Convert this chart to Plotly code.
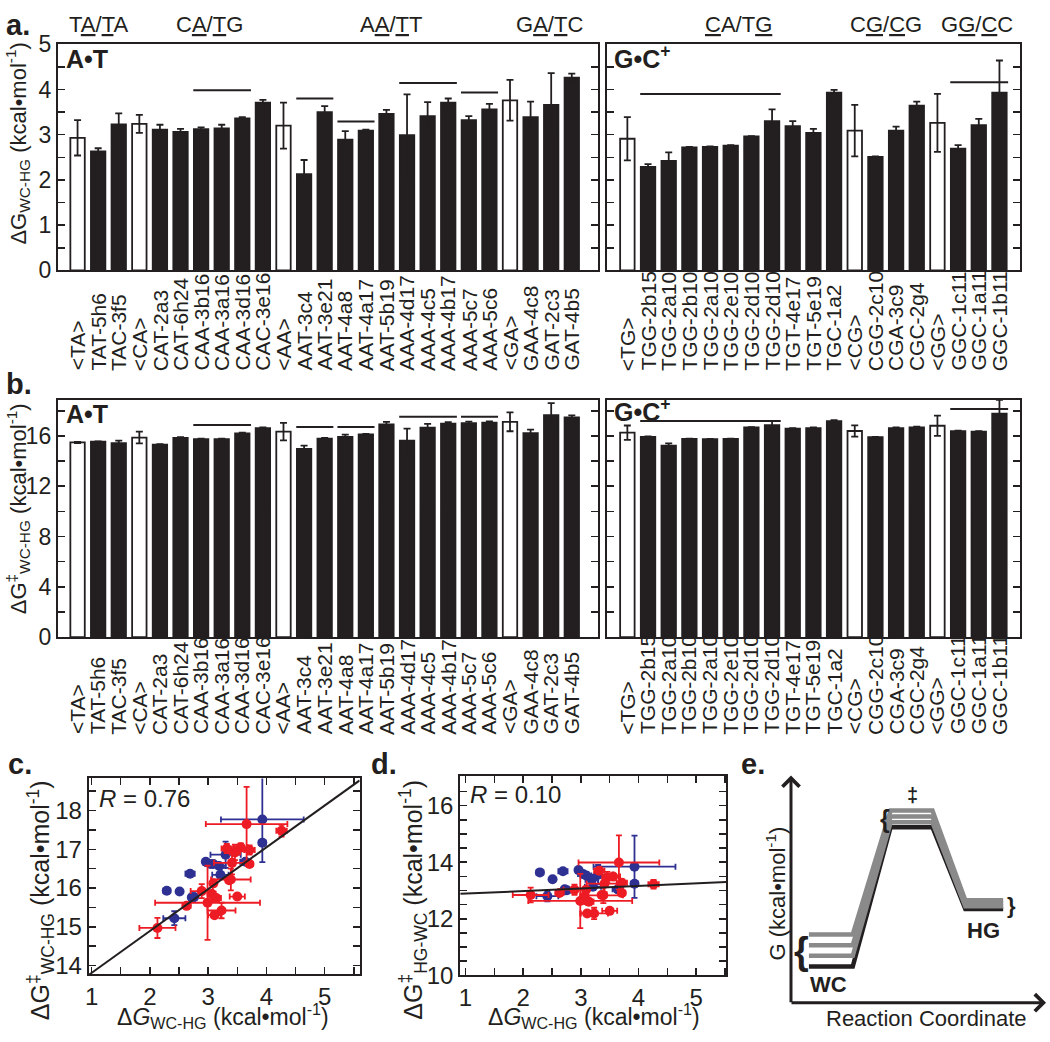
import plotly.graph_objects as go

FONT = "Arial, 'Liberation Sans', Helvetica, sans-serif"
INK = "#231f20"
RED = "#ED1C24"
BLUE = "#2E3192"
GRAY = "#8a8a8a"
W, H = 1050, 1042

# ---------------- data: A•T constructs ----------------
at_labels = ["<TA>", "TAT-5h6", "TAC-3f5", "<CA>", "CAT-2a3", "CAT-6h24", "CAA-3b16", "CAA-3a16",
             "CAA-3d16", "CAC-3e16", "<AA>", "AAT-3c4", "AAT-3e21", "AAT-4a8", "AAT-4a17", "AAT-5b19",
             "AAA-4d17", "AAA-4c5", "AAA-4b17", "AAA-5c7", "AAA-5c6", "<GA>", "GAA-4c8", "GAT-2c3", "GAT-4b5"]
at_is_avg = [True, False, False, True, False, False, False, False, False, False, True, False, False,
             False, False, False, False, False, False, False, False, True, False, False, False]
at_dG = [2.93, 2.63, 3.23, 3.24, 3.11, 3.06, 3.12, 3.14, 3.36, 3.71, 3.20, 2.13, 3.50, 2.89, 3.09, 3.46,
         2.99, 3.41, 3.71, 3.32, 3.56, 3.76, 3.39, 3.66, 4.26]
at_dG_err = [0.39, 0.07, 0.24, 0.20, 0.11, 0.07, 0.04, 0.08, 0.03, 0.06, 0.51, 0.31, 0.13, 0.19, 0.02,
             0.09, 0.90, 0.31, 0.09, 0.09, 0.12, 0.45, 0.34, 0.70, 0.09]
at_dGts = [15.48, 15.54, 15.42, 15.87, 15.30, 15.85, 15.74, 15.74, 16.20, 16.62, 16.34, 14.97, 15.78,
           15.92, 16.12, 16.92, 15.62, 16.65, 16.98, 17.02, 17.05, 17.12, 16.22, 17.65, 17.48]
at_dGts_err = [0.05, 0.03, 0.20, 0.47, 0.05, 0.05, 0.05, 0.05, 0.05, 0.05, 0.70, 0.26, 0.07, 0.18, 0.04,
               0.20, 0.96, 0.30, 0.12, 0.12, 0.10, 0.75, 0.28, 0.96, 0.15]
# ΔG‡(HG→WC) for individual constructs (panel d, averages excluded)
at_dGrev = [12.91, 12.19, 12.19, 12.79, 12.62, 12.60, 12.84, 12.91, 12.84, 12.28, 13.03, 13.03, 13.46,
            12.63, 13.24, 13.27, 13.70, 13.49, 12.83, 13.99, 13.22]

# ---------------- data: G•C+ constructs ----------------
gc_labels = ["<TG>", "TGG-2b15", "TGG-2a10", "TGG-2b10", "TGG-2a10", "TGG-2e10", "TGG-2d10", "TGG-2d10",
             "TGT-4e17", "TGT-5e19", "TGC-1a2", "<CG>", "CGG-2c10", "CGA-3c9", "CGC-2g4", "<GG>",
             "GGC-1c11", "GGC-1a11", "GGC-1b11"]
gc_is_avg = [True, False, False, False, False, False, False, False, False, False, False, True, False,
             False, False, True, False, False, False]
gc_dG = [2.91, 2.29, 2.42, 2.72, 2.73, 2.76, 2.96, 3.30, 3.19, 3.04, 3.93, 3.09, 2.51, 3.09, 3.64, 3.26,
         2.69, 3.21, 3.93]
gc_dG_err = [0.48, 0.06, 0.19, 0.01, 0.01, 0.01, 0.01, 0.26, 0.11, 0.09, 0.06, 0.57, 0.01, 0.09, 0.09,
             0.64, 0.08, 0.14, 0.71]
gc_dGts = [16.26, 15.93, 15.22, 15.76, 15.74, 15.77, 16.68, 16.86, 16.57, 16.62, 17.17, 16.39, 15.91,
           16.62, 16.68, 16.81, 16.37, 16.34, 17.77]
gc_dGts_err = [0.57, 0.03, 0.18, 0.03, 0.02, 0.02, 0.02, 0.34, 0.05, 0.05, 0.08, 0.45, 0.02, 0.05, 0.05,
               0.80, 0.04, 0.04, 1.10]
gc_dGrev = [13.64, 12.80, 13.04, 13.01, 13.01, 13.72, 13.56, 13.38, 13.58, 13.24, 13.40, 13.53, 13.04,
            13.68, 13.13, 13.84]

# group bars (horizontal lines over constructs)
at_grp_start = [7, 12, 14, 17, 20]
at_grp_end = [9, 13, 15, 19, 21]
at_grp_y_a = [3.98, 3.80, 3.29, 4.14, 3.93]
at_grp_y_b = [16.86, 16.70, 16.70, 17.53, 17.53]
gc_grp_start = [2, 17]
gc_grp_end = [8, 19]
gc_grp_y_a = [3.90, 4.16]
gc_grp_y_b = [17.19, 18.15]

# sequence-context headers
at_hdr_text = ["T<u>A</u>/<u>T</u>A", "C<u>A</u>/<u>T</u>G", "A<u>A</u>/<u>T</u>T", "G<u>A</u>/<u>T</u>C"]
at_hdr_pos = [2.0, 7.4, 16.2, 23.9]
gc_hdr_text = ["<u>C</u>A/T<u>G</u>", "C<u>G</u>/<u>C</u>G", "G<u>G</u>/<u>C</u>C"]
gc_hdr_pos = [6.4, 13.5, 17.9]

# correlation fits
c_fit_slope, c_fit_intercept, c_R = 1.08, 12.73, "0.76"
d_fit_slope, d_fit_intercept, d_R = 0.09, 12.80, "0.10"

# schematic (panel e), in panel pixel units
e_stage_x = [808, 852, 890, 932, 965, 1003]
e_wc = [978, 967, 956, 945]
e_ts = [835, 830, 824, 818]
e_hg = [919, 916, 913, 910]
e_colors = [INK, GRAY, GRAY, GRAY]

# ---------------- layout helpers ----------------
def dx(a, b):
    return [a / W, b / W]

def dy(top, bottom):
    return [1 - bottom / H, 1 - top / H]

def py(p):
    return 1 - p / H

tick_common = dict(ticks="inside", ticklen=7, tickwidth=1.5, tickcolor=INK)

def yax(domain, rng, dtick, minor, anchor, labels=True, size=23):
    return dict(domain=domain, range=rng, dtick=dtick, tick0=0, **tick_common,
                minor=dict(dtick=minor, ticks="inside", ticklen=7, tickwidth=1.5, tickcolor=INK),
                showline=True, linewidth=2, linecolor=INK, mirror="ticks", showgrid=False,
                zeroline=False, showticklabels=labels, anchor=anchor,
                tickfont=dict(size=size, color=INK, family=FONT))

def xbar(domain, rng, anchor):
    return dict(domain=domain, range=rng, showticklabels=False, ticks="", showline=True, linewidth=2,
                linecolor=INK, mirror=True, showgrid=False, zeroline=False, anchor=anchor)

def xsc(domain, rng, anchor):
    return dict(domain=domain, range=rng, dtick=1, tick0=0, **tick_common,
                minor=dict(dtick=0.5, ticks="inside", ticklen=7, tickwidth=1.5, tickcolor=INK),
                showline=True, linewidth=2, linecolor=INK, mirror="ticks", showgrid=False,
                zeroline=False, anchor=anchor, tickfont=dict(size=24, color=INK, family=FONT))

fig = go.Figure()

def bars(xa, ya, labels, vals, errs, avg):
    x = list(range(1, len(labels) + 1))
    colors = ["white" if a else INK for a in avg]
    fig.add_trace(go.Bar(x=x, y=vals, width=0.7, xaxis=xa, yaxis=ya, showlegend=False,
                         marker=dict(color=colors, line=dict(color=INK, width=1.8)),
                         error_y=dict(type="data", array=errs, color=INK, thickness=1.8, width=3.5)))

bars("x", "y", at_labels, at_dG, at_dG_err, at_is_avg)
bars("x2", "y2", gc_labels, gc_dG, gc_dG_err, gc_is_avg)
bars("x3", "y3", at_labels, at_dGts, at_dGts_err, at_is_avg)
bars("x4", "y4", gc_labels, gc_dGts, gc_dGts_err, gc_is_avg)

shapes = []
def grp_lines(xref, yref, starts, ends, ys):
    for s, e, yv in zip(starts, ends, ys):
        shapes.append(dict(type="line", xref=xref, yref=yref, x0=s - 0.38, x1=e + 0.42, y0=yv, y1=yv,
                           line=dict(color=INK, width=2)))

grp_lines("x", "y", at_grp_start, at_grp_end, at_grp_y_a)
grp_lines("x2", "y2", gc_grp_start, gc_grp_end, gc_grp_y_a)
grp_lines("x3", "y3", at_grp_start, at_grp_end, at_grp_y_b)
grp_lines("x4", "y4", gc_grp_start, gc_grp_end, gc_grp_y_b)

# ---------------- scatter panels ----------------
C_XR = [0.95, 5.6]
C_YR = [13.77, 18.83]
D_XR = [0.91, 5.52]
D_YR = [10.0, 17.03]

def pick(vals, avg):
    return [v for v, a in zip(vals, avg) if not a]

for xa, ya, which in [("x5", "y5", "c"), ("x6", "y6", "d")]:
    for dG, dGe, ts, tse, rev, avg, col in [
        (gc_dG, gc_dG_err, gc_dGts, gc_dGts_err, gc_dGrev, gc_is_avg, BLUE),
        (at_dG, at_dG_err, at_dGts, at_dGts_err, at_dGrev, at_is_avg, RED)]:
        yv = pick(ts, avg) if which == "c" else rev
        fig.add_trace(go.Scatter(
            x=pick(dG, avg), y=yv, mode="markers", xaxis=xa, yaxis=ya, showlegend=False,
            marker=dict(color=col, size=10),
            error_x=dict(type="data", array=pick(dGe, avg), color=col, thickness=1.8, width=3),
            error_y=dict(type="data", array=pick(tse, avg), color=col, thickness=1.8, width=3)))

fig.add_trace(go.Scatter(x=C_XR, y=[c_fit_slope * v + c_fit_intercept for v in C_XR], mode="lines",
                         line=dict(color=INK, width=2), xaxis="x5", yaxis="y5", showlegend=False))
fig.add_trace(go.Scatter(x=D_XR, y=[d_fit_slope * v + d_fit_intercept for v in D_XR], mode="lines",
                         line=dict(color=INK, width=2), xaxis="x6", yaxis="y6", showlegend=False))

# ---------------- schematic panel e ----------------
for wc, ts, hg, col in zip(e_wc, e_ts, e_hg, e_colors):
    fig.add_trace(go.Scatter(x=e_stage_x, y=[wc, wc, ts, ts, hg, hg], mode="lines",
                             line=dict(color=col, width=4.5), xaxis="x7", yaxis="y7", showlegend=False))

annotations = []
def txt(text, x, y, size, xanchor="center", yanchor="middle", angle=0, xref="paper", yref="paper",
        bold=False):
    annotations.append(dict(text=("<b>%s</b>" % text) if bold else text, x=x, y=y, xref=xref, yref=yref,
                            xanchor=xanchor, yanchor=yanchor, textangle=angle, showarrow=False,
                            font=dict(size=size, color=INK, family=FONT)))

# construct labels: rotated, bottom-aligned under each bar
for xref, labels, bottom in [("x", at_labels, 369), ("x2", gc_labels, 369),
                             ("x3", at_labels, 742), ("x4", gc_labels, 742)]:
    for i, lab in enumerate(labels):
        txt(lab.replace("<", "&lt;").replace(">", "&gt;"), i + 1, py(bottom), 21,
            yanchor="bottom", angle=-90, xref=xref)

# axis arrows of e
annotations.append(dict(x=790, y=782, ax=790, ay=1016, xref="x7", yref="y7", axref="x7", ayref="y7",
                        showarrow=True, arrowhead=4, arrowsize=1.1, arrowwidth=3, arrowcolor=INK, text=""))
annotations.append(dict(x=1046, y=1015, ax=789, ay=1015, xref="x7", yref="y7", axref="x7", ayref="y7",
                        showarrow=True, arrowhead=4, arrowsize=1.1, arrowwidth=3, arrowcolor=INK, text=""))
txt("Reaction Coordinate", 926, 1031, 22, xref="x7", yref="y7")
txt("G (kcal•mol<sup>-1</sup>)", 775, 903, 22, angle=-90, xref="x7", yref="y7")
txt("WC", 828, 996, 22, xref="x7", yref="y7", bold=True)
txt("HG", 983, 941, 22, xref="x7", yref="y7", bold=True)
txt("‡", 912, 802, 20, xref="x7", yref="y7", bold=True)
txt("{", 801, 962, 38, xref="x7", yref="y7", bold=True)
txt("{", 884, 827, 25, xref="x7", yref="y7", bold=True)
txt("}", 1011, 915, 22, xref="x7", yref="y7", bold=True)

# panel letters
for lab, xp, yp in [("a.", 0, 12), ("b.", 0, 380), ("c.", 2, 770), ("d.", 366, 770), ("e.", 738, 770)]:
    txt(lab, xp / W, py(yp), 29, xanchor="left", bold=True)

# headers
for t, p in zip(at_hdr_text, at_hdr_pos):
    txt(t, p, py(12), 22, xref="x")
for t, p in zip(gc_hdr_text, gc_hdr_pos):
    txt(t, p, py(12), 22, xref="x2")

# inner panel labels
txt("A•T", 60 / W, py(47), 25, xanchor="left", bold=True)
txt("G•C<sup>+</sup>", 610 / W, py(45), 25, xanchor="left", bold=True)
txt("A•T", 60 / W, py(411), 25, xanchor="left", bold=True)
txt("G•C<sup>+</sup>", 610 / W, py(407), 25, xanchor="left", bold=True)
txt("<i>R</i> = " + c_R, 93 / W, py(806), 24, xanchor="left")
txt("<i>R</i> = " + d_R, 466 / W, py(801), 24, xanchor="left")

# axis titles
txt("ΔG<sub>WC-HG</sub> (kcal•mol<sup>-1</sup>)", 14 / W, py(134), 22, angle=-90)
txt("ΔG<sup>‡</sup><sub>WC-HG</sub> (kcal•mol<sup>-1</sup>)", 14 / W, py(508), 22, angle=-90)
txt("ΔG<sup>‡</sup><sub>WC-HG</sub> (kcal•mol<sup>-1</sup>)", 37 / W, py(910), 25, angle=-90)
txt("ΔG<sup>‡</sup><sub>HG-WC</sub> (kcal•mol<sup>-1</sup>)", 411 / W, py(909), 25, angle=-90)
txt("Δ<i>G</i><sub>WC-HG</sub> (kcal•mol<sup>-1</sup>)", 220 / W, py(1029), 23)
txt("Δ<i>G</i><sub>WC-HG</sub> (kcal•mol<sup>-1</sup>)", 592 / W, py(1029), 23)

fig.update_layout(
    width=W, height=H, margin=dict(l=0, r=0, t=0, b=0),
    paper_bgcolor="white", plot_bgcolor="white", bargap=0.3,
    font=dict(family=FONT, color=INK),
    xaxis=xbar(dx(54, 596), [0.04, 26.26], "y"),
    yaxis=yax(dy(32, 264), [0, 5], 1, 0.5, "x"),
    xaxis2=xbar(dx(605, 1020), [0, 20], "y2"),
    yaxis2=yax(dy(32, 264), [0, 5], 1, 0.5, "x2", labels=False),
    xaxis3=xbar(dx(54, 596), [0.04, 26.26], "y3"),
    yaxis3=yax(dy(397, 640), [0, 18.85], 4, 2, "x3"),
    xaxis4=xbar(dx(605, 1020), [0, 20], "y4"),
    yaxis4=yax(dy(397, 640), [0, 18.85], 4, 2, "x4", labels=False),
    xaxis5=xsc(dx(85, 357), C_XR, "y5"),
    yaxis5=yax(dy(785, 986), C_YR, 1, 0.5, "x5", size=24),
    xaxis6=xsc(dx(458, 725), D_XR, "y6"),
    yaxis6=yax(dy(783, 987), D_YR, 2, 0.5, "x6", size=24),
    xaxis7=dict(domain=dx(760, 1050), range=[760, 1050], visible=False, anchor="y7"),
    yaxis7=dict(domain=dy(770, 1042), range=[1042, 770], visible=False, anchor="x7"),
    shapes=shapes, annotations=annotations,
)

fig.write_html("out.html", config={"displayModeBar": False, "staticPlot": True},
               post_script="document.body.style.margin='0px';document.documentElement.style.overflow='hidden';")
